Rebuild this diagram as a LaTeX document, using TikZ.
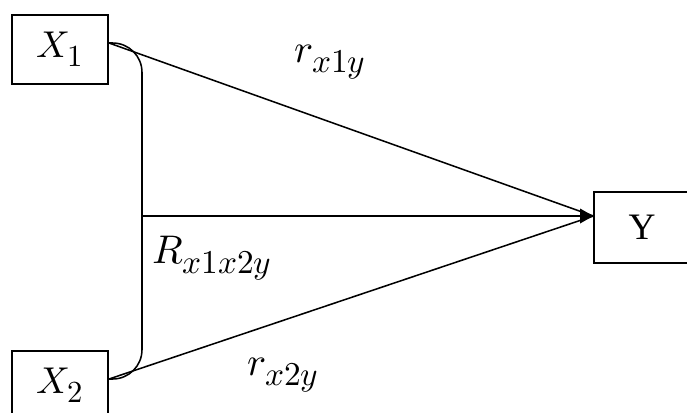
\documentclass[tikz,border=0pt]{standalone}
\usepackage{fontspec}
\usepackage{unicode-math}
\setmainfont{Liberation Serif}
\usetikzlibrary{arrows.meta,positioning,calc}
\DeclareMathSizes{28}{28}{23}{18}
\DeclareMathSizes{30}{30}{25}{19}
\tikzset{
  >={Triangle[length=10pt,width=11pt]},
  varbox/.style={draw,line width=1pt,fill=white,minimum width=72pt,minimum height=51.75pt,inner sep=0pt,font=\fontsize{28}{32}\selectfont},
  link/.style={line width=1.15pt},
  lbl/.style={font=\fontsize{30}{34}\selectfont,inner sep=1pt},
}

\begin{document}
\begin{tikzpicture}[x=0.75pt,y=-0.75pt]
  \useasboundingbox (0,0) rectangle (687,412);
  \node[varbox] (x1) at (60,49.5) {$X_1$};
  \node[varbox] (x2) at (60,385.5) {$X_2$};
  \node[varbox,minimum height=53.25pt] (y) at (642,227.5) {Y};
  \coordinate (a1) at (109,43);
  \coordinate (a2) at (109,379);
  \coordinate (m) at (142,216);
  % bracket joining the two predictors
  \draw[link,rounded corners=22pt] (a1) -- (142,43) -- (142,379) -- (a2);
  \draw[link] (a1) -- (y.west |- m);
  \draw[link] (a2) -- (y.west |- m);
  \draw[link,->] (m) -- (y.west |- m);
  \node[lbl] (r1) at (330,62) {$r_{x1y}$};
  \node[lbl] (rr) at (212,258) {$R_{x1x2y}$};
  \node[lbl] (r2) at (283,375) {$r_{x2y}$};
\end{tikzpicture}
\end{document}
